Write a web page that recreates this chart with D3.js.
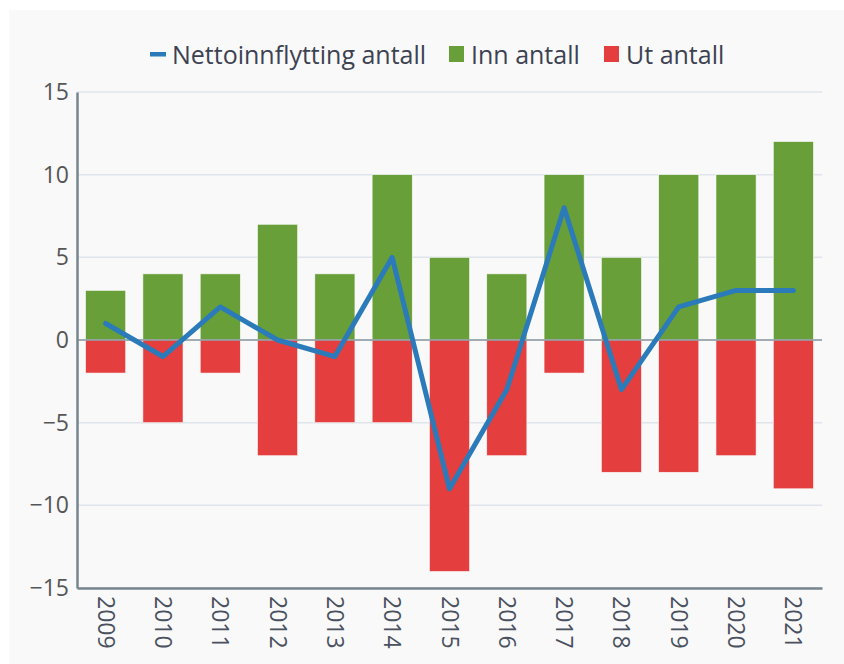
<!DOCTYPE html>
<html>
<head>
<meta charset="utf-8">
<script src="https://cdn.jsdelivr.net/npm/d3@7"></script>
<style>
  body { margin: 0; background: #fff; }
  svg { display: block; font-family: "Open Sans", sans-serif; }
</style>
</head>
<body>
<svg id="chart" width="844" height="664"></svg>
<script>
// data
const years = ["2009","2010","2011","2012","2013","2014","2015","2016","2017","2018","2019","2020","2021"];
const innAntall = [3, 4, 4, 7, 4, 10, 5, 4, 10, 5, 10, 10, 12];
const utAntall = [-2, -5, -2, -7, -5, -5, -14, -7, -2, -8, -8, -7, -9];
const nettoAntall = [1, -1, 2, 0, -1, 5, -9, -3, 8, -3, 2, 3, 3];
const yTicks = [-15, -10, -5, 0, 5, 10, 15];

const svg = d3.select('#chart');
const margin = { left: 77, right: 22, top: 92, bottom: 76 };
const W = 844, H = 664;

// panel background
svg.append('rect')
    .attr('x', 9).attr('y', 10)
    .attr('width', W - 9).attr('height', H - 10)
    .attr('fill', '#f9f9f9');

const x = d3.scaleBand()
    .domain(years)
    .range([margin.left, W - margin.right])
    .paddingInner(0.3)
    .paddingOuter(0.15);

const y = d3.scaleLinear()
    .domain([-15, 15])
    .range([H - margin.bottom, margin.top]);

// gridlines
svg.append('g')
    .selectAll('line')
    .data(yTicks)
    .join('line')
    .attr('x1', margin.left).attr('x2', W - margin.right)
    .attr('y1', d => y(d)).attr('y2', d => y(d))
    .attr('stroke', '#dfe5ea')
    .attr('stroke-width', 1.5);

// bars
const bars = svg.append('g');
bars.selectAll('rect.inn')
    .data(innAntall)
    .join('rect')
    .attr('class', 'inn')
    .attr('x', (d, i) => x(years[i]))
    .attr('width', x.bandwidth())
    .attr('y', d => y(d))
    .attr('height', d => y(0) - y(d))
    .attr('fill', '#689f38')
    .attr('stroke', '#f9f9f9')
    .attr('stroke-width', 0.6);

bars.selectAll('rect.ut')
    .data(utAntall)
    .join('rect')
    .attr('class', 'ut')
    .attr('x', (d, i) => x(years[i]))
    .attr('width', x.bandwidth())
    .attr('y', y(0))
    .attr('height', d => y(d) - y(0))
    .attr('fill', '#e53e3e')
    .attr('stroke', '#f9f9f9')
    .attr('stroke-width', 0.6);

// zero line
svg.append('line')
    .attr('x1', margin.left).attr('x2', W - margin.right)
    .attr('y1', y(0)).attr('y2', y(0))
    .attr('stroke', '#8a979f')
    .attr('stroke-width', 1.5);

// net line
const line = d3.line()
    .x((d, i) => x(years[i]) + x.bandwidth() / 2)
    .y(d => y(d));

svg.append('path')
    .datum(nettoAntall)
    .attr('d', line)
    .attr('fill', 'none')
    .attr('stroke', '#2b7bba')
    .attr('stroke-width', 5)
    .attr('stroke-linejoin', 'round')
    .attr('stroke-linecap', 'round');

// y axis
const yAxis = svg.append('g')
    .attr('transform', `translate(${margin.left},0)`)
    .call(d3.axisLeft(y).tickValues(yTicks).tickSize(0).tickPadding(8)
        .tickFormat(d => d < 0 ? '\u2212' + Math.abs(d) : d));
yAxis.select('.domain').attr('stroke', '#76858e').attr('stroke-width', 2.5);
yAxis.selectAll('text')
    .attr('font-size', 23)
    .attr('fill', '#565656')
    .attr('font-family', '"Open Sans", sans-serif');

// x axis
const xAxis = svg.append('g')
    .attr('transform', `translate(0,${H - margin.bottom})`)
    .call(d3.axisBottom(x).tickSize(0).tickPadding(0));
xAxis.select('.domain').attr('stroke', '#76858e').attr('stroke-width', 2.5);
xAxis.selectAll('text')
    .attr('font-size', 23)
    .attr('fill', '#4a5160')
    .attr('font-family', '"Open Sans", sans-serif')
    .attr('text-anchor', 'start')
    .attr('dy', null)
    .attr('transform', 'translate(1,8) rotate(90)')
    .attr('x', 0).attr('y', 0)
    .attr('dominant-baseline', 'central');

// legend
const legend = svg.append('g');
const items = [
    { label: 'Nettoinnflytting antall', color: '#2b7bba', type: 'line', x: 150 },
    { label: 'Inn antall', color: '#689f38', type: 'rect', x: 449 },
    { label: 'Ut antall', color: '#e53e3e', type: 'rect', x: 604 }
];
items.forEach(it => {
    if (it.type === 'line') {
        legend.append('rect')
            .attr('x', it.x).attr('y', 52)
            .attr('width', 16).attr('height', 4.5)
            .attr('fill', it.color);
    } else {
        legend.append('rect')
            .attr('x', it.x).attr('y', 46)
            .attr('width', 15).attr('height', 16)
            .attr('fill', it.color);
    }
    legend.append('text')
        .attr('x', it.x + 22)
        .attr('y', 54)
        .attr('dominant-baseline', 'central')
        .attr('font-size', 25)
        .attr('fill', '#3d4252')
        .text(it.label);
});
</script>
</body>
</html>
